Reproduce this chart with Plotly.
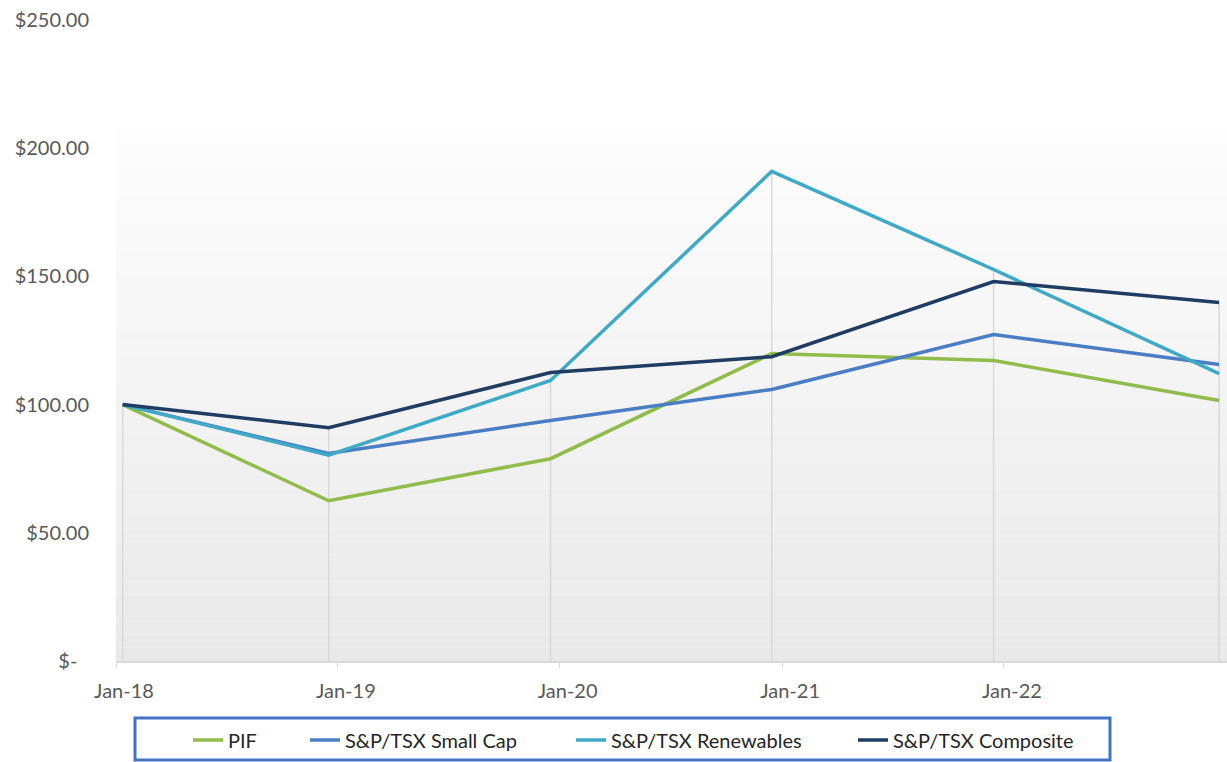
import plotly.graph_objects as go

# ---------------- data ----------------
dates = ["2018-01-12", "2018-12-17", "2019-12-17", "2020-12-15", "2021-12-15", "2022-12-21"]
pif = [100.0, 62.5, 78.9, 119.9, 117.2, 101.6]
small_cap = [100.0, 80.9, 93.8, 105.9, 127.3, 115.6]
renewables = [100.0, 80.3, 109.4, 191.0, 152.7, 112.1]
composite = [100.0, 91.0, 112.5, 118.7, 148.0, 139.8]

series_names = ["PIF", "S&P/TSX Small Cap", "S&P/TSX Renewables", "S&P/TSX Composite"]
series_colors = ["#8fbc4a", "#4a7ec4", "#3fa9c7", "#1f3d63"]

x_tick_vals = ["2018-01-01", "2019-01-01", "2020-01-01", "2021-01-01", "2022-01-01"]
x_tick_text = ["Jan-18", "Jan-19", "Jan-20", "Jan-21", "Jan-22"]
y_tick_vals = [0, 50, 100, 150, 200, 250]
y_tick_text = ["$-\u2007", "$50.00", "$100.00", "$150.00", "$200.00", "$250.00"]

FONT = "Lato"
PL, PW, PT, PH = 116, 1111, 20, 641  # plot area in pixels


def px_x(px):
    return (px - PL) / PW


def px_y(py):
    return (PT + PH - py) / PH


fig = go.Figure()

# drop lines from highest series value down to axis
all_series = [pif, small_cap, renewables, composite]
dx, dy = [], []
for i, d in enumerate(dates):
    top = max(s[i] for s in all_series)
    dx += [d, d, None]
    dy += [0, top, None]
fig.add_trace(go.Scatter(x=dx, y=dy, mode="lines", line=dict(color="#d9d9d9", width=1.5),
                         hoverinfo="skip", showlegend=False))

legend_ids = ["legend", "legend2", "legend3", "legend4"]
legend_left_px = [188, 305, 571, 853]
for name, vals, col, lg in zip(series_names, all_series, series_colors, legend_ids):
    fig.add_trace(go.Scatter(x=dates, y=vals, mode="lines", name=name, legend=lg,
                             line=dict(color=col, width=3.5)))

# gradient plot background
shapes = []
n = 40
g_top = 207.0
bot_c, top_c = 0xe9, 0xfd
for k in range(n):
    y0 = g_top * k / n
    y1 = g_top * (k + 1) / n
    t = (k + 0.5) / n
    c = int(round(bot_c + (top_c - bot_c) * t))
    shapes.append(dict(type="rect", xref="paper", yref="y", x0=0, x1=1, y0=y0, y1=y1,
                       fillcolor=f"rgb({c},{c},{c})", line=dict(width=0), layer="below"))

# legend frame
shapes.append(dict(type="rect", xref="paper", yref="paper",
                   x0=px_x(135), x1=px_x(1110), y0=px_y(760), y1=px_y(718),
                   line=dict(color="#4472c4", width=3), fillcolor="rgba(0,0,0,0)"))

legend_style = dict(orientation="h", yanchor="middle", y=px_y(740), xanchor="left",
                    font=dict(family=FONT, size=20, color="#262626"),
                    bgcolor="rgba(0,0,0,0)", borderwidth=0)

layout_legends = {}
for lg, lpx in zip(legend_ids, legend_left_px):
    d = dict(legend_style)
    d["x"] = px_x(lpx)
    layout_legends[lg] = d

fig.update_layout(
    width=1227, height=762,
    margin=dict(l=PL, r=1227 - PL - PW, t=PT, b=762 - PT - PH),
    paper_bgcolor="white", plot_bgcolor="white",
    font=dict(family=FONT, size=20, color="#595959"),
    shapes=shapes,
    showlegend=True,
    hovermode=False,
    **layout_legends,
)

fig.update_xaxes(type="date", range=["2018-01-01", "2023-01-03"],
                 tickvals=x_tick_vals, ticktext=x_tick_text,
                 showgrid=False, zeroline=False,
                 showline=True, linecolor="#d9d9d9", linewidth=1.5,
                 ticks="outside", ticklen=5, tickcolor="#d9d9d9",
                 ticklabelshift=8, ticklabelstandoff=6,
                 tickfont=dict(family=FONT, size=20, color="#595959"))
fig.update_yaxes(range=[0, 250], tickvals=y_tick_vals, ticktext=y_tick_text,
                 showgrid=False, zeroline=False, showline=False, ticks="",
                 ticklabelstandoff=26,
                 tickfont=dict(family=FONT, size=20, color="#595959"))

fig.write_html("out.html")
